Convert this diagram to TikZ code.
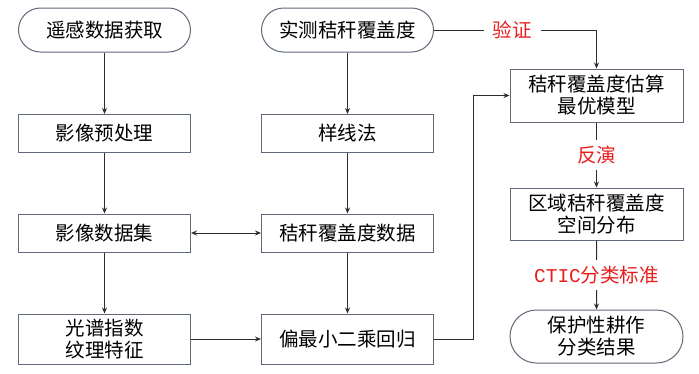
\documentclass[tikz,border=0pt]{standalone}
\usepackage{fontspec}
\setmainfont{Noto Sans CJK SC}
\newfontfamily\latinmono{Liberation Mono}
\usetikzlibrary{positioning, arrows.meta, shapes.misc}
\definecolor{boxline}{RGB}{95,105,120}
\definecolor{flowline}{RGB}{45,45,45}
\definecolor{note}{RGB}{235,30,30}

\begin{document}
\begin{tikzpicture}[x=1pt, y=-1pt, >={Stealth[length=6pt,width=5pt]}, font=\fontsize{19.5}{22}\selectfont,
    procbox/.style={draw=boxline, line width=1pt, minimum width=172pt, minimum height=38pt, inner sep=0pt, align=center},
    termbox/.style={procbox, rounded rectangle},
    flow/.style={->, draw=flowline, line width=1pt},
    tag/.style={fill=white, text=note, inner xsep=9pt, inner ysep=6pt}]
    \useasboundingbox (0,0) rectangle (699,373);

    % left column: remote sensing data
    \node[termbox, minimum height=44pt] (get) at (104.5,30) {遥感数据获取};
    \node[procbox] (pre) at (104.5,133.5) {影像预处理};
    \node[procbox] (imgset) at (104.5,233) {影像数据集};
    \node[procbox, minimum height=50pt] (feat) at (104.5,339) {光谱指数\\纹理特征};

    % middle column: field measurement
    \node[termbox, minimum height=44pt] (meas) at (347.5,30) {实测秸秆覆盖度};
    \node[procbox] (transect) at (347.5,133.5) {样线法};
    \node[procbox] (cover) at (347.5,233) {秸秆覆盖度数据};
    \node[procbox, minimum height=50pt] (plsr) at (347.5,339) {偏最小二乘回归};

    % right column: model and mapping
    \node[procbox, minimum width=173pt, minimum height=53pt] (model) at (596.5,95.5) {秸秆覆盖度估算\\最优模型};
    \node[procbox, minimum width=173pt, minimum height=52pt] (dist) at (596.5,214) {区域秸秆覆盖度\\空间分布};
    \node[termbox, minimum width=173pt, minimum height=53pt] (result) at (596.5,336.5) {保护性耕作\\分类结果};

    \draw[flow] (get) -- (pre);
    \draw[flow] (pre) -- (imgset);
    \draw[flow] (imgset) -- (feat);
    \draw[flow] (meas) -- (transect);
    \draw[flow] (transect) -- (cover);
    \draw[flow] (cover) -- (plsr);
    \draw[flow, <->] (imgset) -- (cover);
    \draw[flow] (feat) -- (plsr);
    \draw[flow] (plsr.east) -- ++(39,0) |- (model.west);
    \draw[flow] (meas.east) -| node[tag, pos=0.24] {验证} (model.north);
    \draw[flow] (model) -- node[tag] {反演} (dist);
    \draw[flow] (dist) -- node[tag] {{\latinmono CTIC}分类标准} (result);
\end{tikzpicture}
\end{document}
